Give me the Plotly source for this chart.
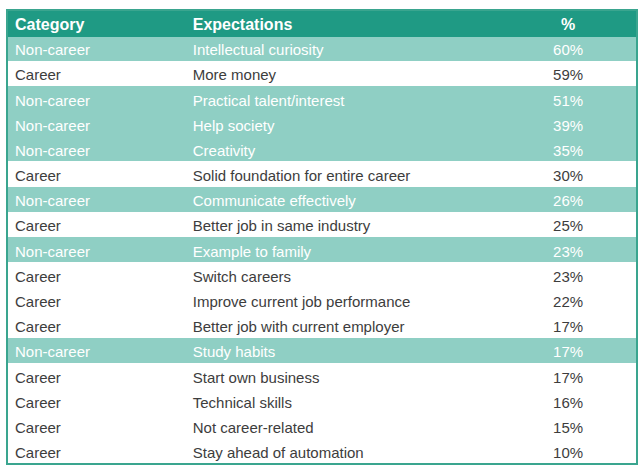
import plotly.graph_objects as go

categories = ["Non-career", "Career", "Non-career", "Non-career", "Non-career", "Career",
              "Non-career", "Career", "Non-career", "Career", "Career", "Career",
              "Non-career", "Career", "Career", "Career", "Career"]
expectations = ["Intellectual curiosity", "More money", "Practical talent/interest",
                "Help society", "Creativity", "Solid foundation for entire career",
                "Communicate effectively", "Better job in same industry", "Example to family",
                "Switch careers", "Improve current job performance",
                "Better job with current employer", "Study habits", "Start own business",
                "Technical skills", "Not career-related", "Stay ahead of automation"]
percents = [60, 59, 51, 39, 35, 30, 26, 25, 23, 23, 22, 17, 17, 17, 16, 15, 10]
header_labels = ["Category", "Expectations", "%"]

HEADER = "#1f9a84"
TEAL = "#8fcfc4"
DARK = "#3d3d3d"

fills = [TEAL if c == "Non-career" else "white" for c in categories]
fcols = ["white" if c == "Non-career" else DARK for c in categories]
pct_text = [f"{p}%" for p in percents]

W, H = 644, 474
x0, x1 = 7, 637
y_top, y_bot = 10, 464
header_h = 26
row_h = (y_bot - y_top - header_h) / len(categories)

fig = go.Figure(go.Table(
    domain=dict(x=[x0 / W, x1 / W], y=[0, 1 - y_top / H]),
    columnwidth=[178, 316, 136],
    header=dict(
        values=header_labels,
        fill_color=HEADER,
        line=dict(color=HEADER, width=1),
        font=dict(family="Liberation Sans, Arial, sans-serif", size=16,
                  color="white", weight="bold"),
        align=["left", "left", "center"],
        height=header_h,
    ),
    cells=dict(
        values=[categories, expectations, pct_text],
        fill_color=[fills, fills, fills],
        line=dict(color=[fills, fills, fills], width=1),
        font=dict(family="Liberation Sans, Arial, sans-serif", size=15,
                  color=[fcols, fcols, fcols]),
        align=["left", "left", "center"],
        height=row_h,
    ),
))

fig.add_shape(type="rect", xref="paper", yref="paper",
              x0=x0 / W, x1=x1 / W, y0=1 - y_bot / H, y1=1 - y_top / H,
              line=dict(color="#3aa58f", width=2), fillcolor="rgba(0,0,0,0)")

fig.update_layout(width=W, height=H, margin=dict(l=0, r=0, t=0, b=0),
                  paper_bgcolor="white", plot_bgcolor="white")

fig.write_html("out.html", config={"displayModeBar": False},
               post_script="document.body.style.margin='0';document.body.style.overflow='hidden';")
